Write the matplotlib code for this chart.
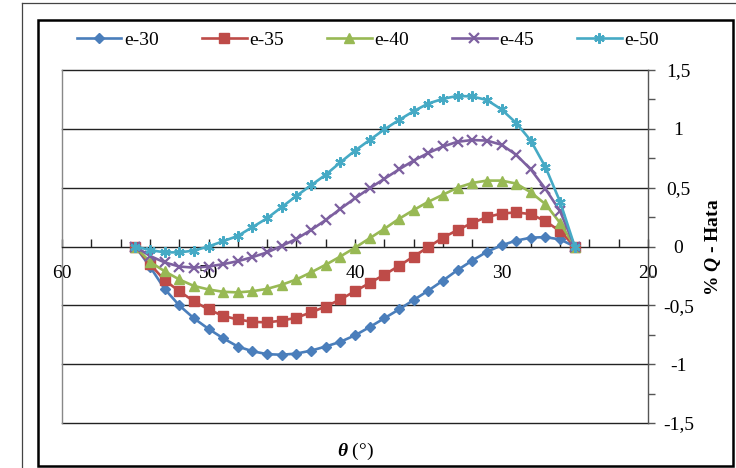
import matplotlib
matplotlib.use("Agg")
import matplotlib.pyplot as plt
from matplotlib.lines import Line2D
from matplotlib.patches import Rectangle
from matplotlib.ticker import MultipleLocator, FixedLocator, FixedFormatter

plt.rcParams['font.family'] = ['Liberation Serif', 'DejaVu Serif']
plt.rcParams['mathtext.fontset'] = 'custom'
plt.rcParams['mathtext.it'] = 'Liberation Serif:italic:bold'
plt.rcParams['mathtext.rm'] = 'Liberation Serif:bold'
plt.rcParams['mathtext.bf'] = 'Liberation Serif:bold'

# ---- data ----
theta = list(range(55, 24, -1))  # 55 ... 25

e30 = [0, -0.17, -0.36, -0.50, -0.61, -0.70, -0.78, -0.85, -0.89, -0.915, -0.92,
       -0.91, -0.885, -0.85, -0.81, -0.755, -0.685, -0.61, -0.535, -0.455, -0.375,
       -0.29, -0.20, -0.12, -0.045, 0.01, 0.05, 0.075, 0.08, 0.06, 0]
e35 = [0, -0.15, -0.285, -0.38, -0.465, -0.535, -0.59, -0.62, -0.64, -0.645, -0.63,
       -0.605, -0.56, -0.51, -0.45, -0.38, -0.31, -0.24, -0.165, -0.085, -0.005,
       0.075, 0.14, 0.20, 0.25, 0.28, 0.29, 0.275, 0.215, 0.13, 0]
e40 = [0, -0.13, -0.21, -0.28, -0.335, -0.365, -0.385, -0.39, -0.38, -0.36, -0.325,
       -0.28, -0.22, -0.155, -0.085, -0.01, 0.07, 0.15, 0.235, 0.31, 0.38,
       0.44, 0.50, 0.54, 0.56, 0.56, 0.535, 0.46, 0.36, 0.20, 0]
e45 = [0, -0.08, -0.135, -0.17, -0.18, -0.17, -0.15, -0.125, -0.09, -0.05, 0.005,
       0.065, 0.14, 0.225, 0.32, 0.41, 0.495, 0.575, 0.655, 0.73, 0.795,
       0.85, 0.89, 0.905, 0.90, 0.865, 0.78, 0.655, 0.49, 0.30, 0]
e50 = [0, -0.03, -0.05, -0.05, -0.035, 0.0, 0.045, 0.09, 0.165, 0.24, 0.335,
       0.43, 0.52, 0.61, 0.715, 0.815, 0.905, 0.995, 1.075, 1.15, 1.215,
       1.255, 1.28, 1.275, 1.245, 1.165, 1.05, 0.90, 0.675, 0.38, 0]

series_names = ['e-30', 'e-35', 'e-40', 'e-45', 'e-50']
series_values = [e30, e35, e40, e45, e50]
colors = ['#4A7EBB', '#BE4B48', '#98B954', '#7D60A0', '#46AAC5']
markers = ['D', 's', '^', 'x', (6, 2, 0)]
msizes = [5.5, 6.5, 7, 6.5, 7.5]

ytick_vals = [-1.5, -1, -0.5, 0, 0.5, 1, 1.5]
ytick_labels = ['-1,5', '-1', '-0,5', '0', '0,5', '1', '1,5']
xtick_vals = [60, 50, 40, 30, 20]
xtick_labels = ['60', '50', '40', '30', '20']

W, H = 736, 468
fig = plt.figure(figsize=(W / 100, H / 100), dpi=100)

def fx(px):
    return px / W

def fy(py):
    return 1 - py / H

# outer frames
fig.add_artist(Line2D([fx(22), fx(22)], [fy(3), 0], color='#444444', lw=0.9))
fig.add_artist(Line2D([fx(22), 1], [fy(3), fy(3)], color='#444444', lw=0.9))
fig.add_artist(Rectangle((fx(38), fy(466)), fx(733) - fx(38), fy(20) - fy(466),
                         fill=False, edgecolor='black', lw=1.8))

ax = fig.add_axes([fx(62), fy(423), fx(648) - fx(62), fy(70) - fy(423)])

handles = []
for name, vals, c, m, ms in zip(series_names, series_values, colors, markers, msizes):
    mew = 1.6 if m in ('x',) or isinstance(m, tuple) else 1.0
    h, = ax.plot(theta, vals, color=c, lw=1.9, marker=m, markersize=ms,
                 markerfacecolor=c, markeredgecolor=c, markeredgewidth=mew,
                 label=name, zorder=3)
    handles.append(h)

ax.set_xlim(60, 20)
ax.set_ylim(-1.5, 1.5)

# gridlines
for v in ytick_vals:
    if v != 0:
        ax.axhline(v, color='#222222', lw=1.0, zorder=1, clip_on=False)

# spines
ax.spines['top'].set_visible(False)
ax.spines['left'].set_color('#888888')
ax.spines['left'].set_linewidth(1.0)
ax.spines['bottom'].set_position(('data', 0))
ax.spines['bottom'].set_color('#222222')
ax.spines['bottom'].set_linewidth(1.0)
ax.spines['right'].set_color('#555555')
ax.spines['right'].set_linewidth(1.0)

# y axis on right
ax.yaxis.tick_right()
ax.yaxis.set_major_locator(FixedLocator(ytick_vals))
ax.yaxis.set_major_formatter(FixedFormatter(ytick_labels))
ax.yaxis.set_minor_locator(MultipleLocator(0.25))
ax.tick_params(axis='y', which='both', direction='out', length=5, width=1,
               color='#555555', labelsize=14, pad=17, left=False)

# x axis at zero
ax.xaxis.set_major_locator(FixedLocator(xtick_vals))
ax.xaxis.set_major_formatter(FixedFormatter(xtick_labels))
ax.xaxis.set_minor_locator(MultipleLocator(2))
ax.tick_params(axis='x', which='both', direction='in', length=6, width=1,
               color='#222222', labelsize=14, pad=13, top=False)

fig.canvas.draw()
for lab in ax.get_yticklabels():
    lab.set_horizontalalignment('center')

fig.text(fx(356), fy(451), r'$\theta$ (°)', ha='center', va='center', fontsize=14)
fig.text(fx(713), fy(247), r'% $Q$ - Hata', ha='center', va='center', fontsize=14,
         fontweight='bold', rotation=90)

fig.legend(handles, series_names, loc='center', bbox_to_anchor=(fx(368), fy(40)),
           ncol=5, frameon=False, prop={'family': 'Liberation Serif', 'size': 14},
           handlelength=2.3, handletextpad=0.15, columnspacing=2.2)

fig.savefig('out.png', dpi=100)
